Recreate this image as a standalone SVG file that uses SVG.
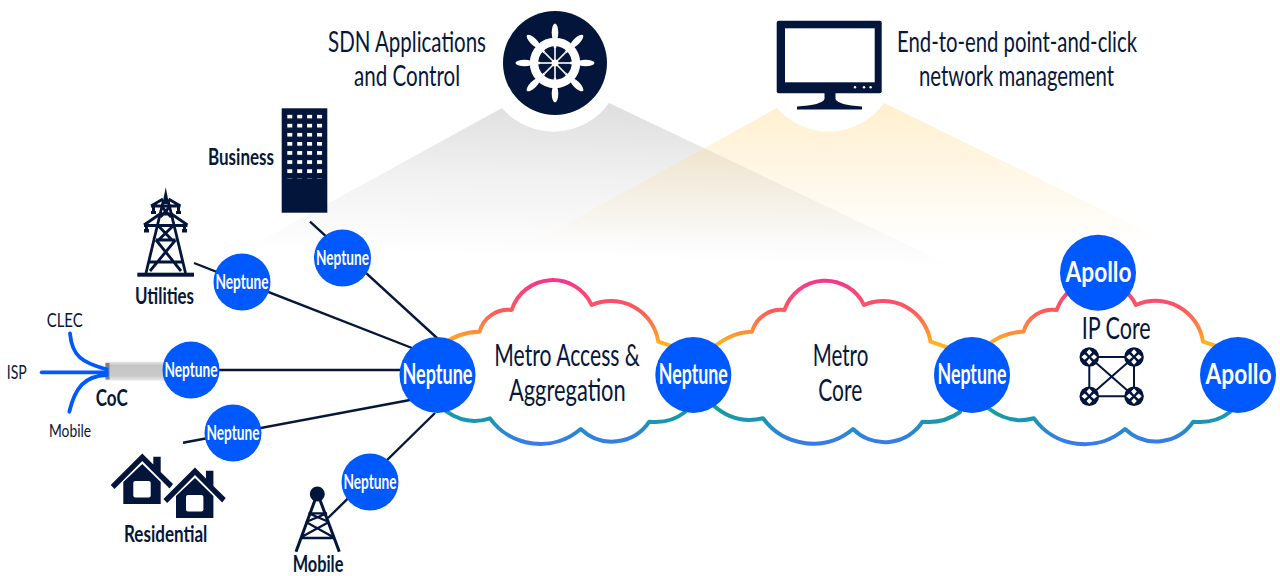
<svg xmlns="http://www.w3.org/2000/svg" width="1280" height="576" viewBox="0 0 1280 576">
<style>
text{font-family:Lato,"Liberation Sans",sans-serif;fill:#06173a}
.big{font-size:29px}
.lab{font-size:30px}
.bold{font-size:23px;font-weight:700}
.small{font-size:20px}
.n{fill:#0058ff}
.ns{font-size:20px;font-weight:700;fill:#fff}
.nb{font-size:28px;font-weight:700;fill:#fff}
.ln{stroke:#06173a;stroke-width:2.4;fill:none}
.cloud{fill:#fff;stroke:url(#cg);stroke-width:4;stroke-linejoin:round}
.fib{stroke:#0058ff;stroke-width:3.8;fill:none;stroke-linecap:round}
.ic{fill:#03153a}
.w{fill:#fff}
.st{stroke:#03153a;fill:none}
</style>
<defs>
<linearGradient id="gray" gradientUnits="userSpaceOnUse" x1="560" y1="100" x2="555.500" y2="258"><stop offset="0" stop-color="#dedede"/><stop offset=".5" stop-color="#f1f1f1"/><stop offset="1" stop-color="#ffffff"/></linearGradient>
<linearGradient id="yel" gradientUnits="userSpaceOnUse" x1="0" y1="103" x2="0" y2="244"><stop offset="0" stop-color="#ffd98a" stop-opacity=".42"/><stop offset="1" stop-color="#ffd98a" stop-opacity="0"/></linearGradient>
<linearGradient id="cg" gradientUnits="userSpaceOnUse" x1="0" y1="279" x2="0" y2="445"><stop offset="0" stop-color="#f5348f"/><stop offset=".19" stop-color="#fd5a5c"/><stop offset=".31" stop-color="#ff8a3a"/><stop offset=".4" stop-color="#ffb81c"/><stop offset=".76" stop-color="#16a08c"/><stop offset=".86" stop-color="#1a94b8"/><stop offset="1" stop-color="#3b78f0"/></linearGradient>
<linearGradient id="tube" x1="0" y1="0" x2="0" y2="1"><stop offset="0" stop-color="#e8e8e8"/><stop offset=".2" stop-color="#c4c4c4"/><stop offset=".75" stop-color="#cacaca"/><stop offset="1" stop-color="#ececec"/></linearGradient>
<pattern id="win" patternUnits="userSpaceOnUse" x="287.300" y="114.700" width="9.900" height="9.100"><rect width="5" height="3.700" fill="#fff"/></pattern>
<g id="house">
<path class="ic" d="M110.700,485 L142.300,453.500 L153.300,464.500 V456.700 H160.700 V472 L173,484 L169.500,488.500 L142.300,461 L114.500,489 Z"/>
<path class="ic" d="M142.300,464 L160.700,482 V504 H123.300 V482 Z"/>
<rect class="w" x="133.300" y="481" width="17.400" height="16.500" rx="2"/>
</g>
<g id="router">
<circle class="ic" r="9.800"/>
<path class="w" d="M0,-7.800 L2.800,-4.700 L0,-1.600 L-2.800,-4.700 Z M0,7.800 L2.800,4.700 L0,1.600 L-2.800,4.700 Z M-7.800,0 L-4.700,-2.800 L-1.600,0 L-4.700,2.800 Z M7.800,0 L4.700,-2.800 L1.600,0 L4.700,2.800 Z"/>
</g>
<g id="handle"><ellipse class="w" cx="555" cy="32.500" rx="3.300" ry="9"/><rect class="w" x="553.800" y="38" width="2.400" height="10"/><rect class="w" x="554.200" y="48" width="1.600" height="15"/></g>
</defs>

<g id="beams">
<path fill="url(#gray)" d="M502,108 A68,68 0 0 0 609,103 L965,272 L240,252 Z"/>
<path fill="url(#yel)" d="M777,108 A68,68 0 0 0 884,103 L1170,243 L530,244 Z"/>
</g>

<g id="cloud-metro-access"><path class="cloud" d="M440,346 Q458,332 479.500,331.700 A30,30 0 0 1 511.700,310 A43,43 0 0 1 591.700,305 A48,48 0 0 1 658.300,341.700 L680,349 L685,412 Q670,424 649.300,421.700 A45,45 0 0 1 580.700,429 A62,62 0 0 1 490,418.300 Q467,426 446.700,411.700 L440,405 Z"/></g>
<g id="cloud-metro-core"><path class="cloud" d="M705,355 Q728,332 752,331.700 A30,30 0 0 1 784.500,310 A43,43 0 0 1 864,305 A48,48 0 0 1 930.500,341.700 L955,350 L960,412 Q943,424 922.500,421.700 A45,45 0 0 1 853,429 A62,62 0 0 1 763,418.300 Q735,425 713,405 Z"/></g>
<g id="cloud-ip-core"><path class="cloud" d="M985,347 Q1003,332 1023.500,331.700 A30,30 0 0 1 1056.700,310 A43,43 0 0 1 1136,305 A48,48 0 0 1 1203,341.700 L1225,349 L1230,412 Q1215,424 1193.300,421.700 A45,45 0 0 1 1125,429 A62,62 0 0 1 1034,418.300 Q1010,425 988,408 Z"/></g>

<g id="connectors">
<line class="ln" x1="310" y1="221.700" x2="437" y2="338"/>
<line class="ln" x1="194" y1="263" x2="412" y2="348"/>
<line class="ln" x1="191" y1="370" x2="400" y2="370"/>
<line class="ln" x1="183" y1="442.700" x2="410" y2="400"/>
<line class="ln" x1="328" y1="518" x2="435" y2="413"/>
</g>

<g id="sdn-apps">
<circle class="ic" cx="555" cy="63" r="52"/>
<use href="#handle"/>
<use href="#handle" transform="rotate(45 555 63)"/>
<use href="#handle" transform="rotate(90 555 63)"/>
<use href="#handle" transform="rotate(135 555 63)"/>
<use href="#handle" transform="rotate(180 555 63)"/>
<use href="#handle" transform="rotate(225 555 63)"/>
<use href="#handle" transform="rotate(270 555 63)"/>
<use href="#handle" transform="rotate(315 555 63)"/>
<circle cx="555" cy="63" r="21" fill="none" stroke="#fff" stroke-width="8.500"/>
<circle class="w" cx="555" cy="63" r="3.500"/>
<text class="big" x="328" y="51.500" textLength="158" lengthAdjust="spacingAndGlyphs">SDN Applications</text>
<text class="big" x="354" y="85.500" textLength="106" lengthAdjust="spacingAndGlyphs">and Control</text>
</g>

<g id="management">
<rect class="ic" x="776.700" y="20.700" width="105" height="72.600" rx="2"/>
<rect class="w" x="785" y="28.300" width="89.700" height="54"/>
<circle class="w" cx="855" cy="87.300" r="1.200"/><circle class="w" cx="864" cy="87.300" r="1.200"/><circle class="w" cx="870.600" cy="87.300" r="1.200"/>
<path class="ic" d="M824.500,93 H835.500 V99 Q838,105 862,106.500 V109.500 H797 V106.500 Q822,105 824.500,99 Z"/>
<text class="big" x="897" y="51.500" textLength="240" lengthAdjust="spacingAndGlyphs">End-to-end point-and-click</text>
<text class="big" x="919" y="85.500" textLength="195" lengthAdjust="spacingAndGlyphs">network management</text>
</g>

<g id="business">
<rect class="ic" x="281.700" y="108.300" width="45.600" height="104.400"/>
<rect fill="url(#win)" x="287" y="114.500" width="36" height="64"/>
<text class="bold" x="208" y="165" textLength="66" lengthAdjust="spacingAndGlyphs">Business</text>
</g>

<g id="utilities">
<path class="ic" d="M165.700,187.300 L169,204 H162.500 Z"/>
<rect class="ic" x="137.300" y="272.700" width="56.700" height="4"/>
<path class="st" stroke-width="2.800" d="M163.500,200 L146,273 M168,200 L185.500,273 M151,206 L163,199 M180.500,206 L168.500,199 M151,206 H180.500 M144,225 L160,214 M187.500,225 L171.500,214 M144,225.500 H187.500 M162,207 L171,217 M169.500,207 L160.500,217 M161,214 H170.500 M158.500,226 L172,240 M173,226 L158.500,240 M156,240 H175.500 M156,240 L181,271 M175.500,240 L150,271 M149,262 H182"/>
<path class="ic" d="M152,207 h3 v4 h1 v3 h-5 v-3 h1 Z M177,207 h3 v4 h1 v3 h-5 v-3 h1 Z M145,226 h3 v3 h1 v3.500 h-5 v-3.500 h1 Z M183,226 h3 v3 h1 v3.500 h-5 v-3.500 h1 Z"/>
<text class="bold" x="135" y="303.500" textLength="59" lengthAdjust="spacingAndGlyphs">Utilities</text>
</g>

<g id="coc">
<rect fill="url(#tube)" x="105.500" y="361.700" width="64" height="19"/>
<rect fill="#7d7d7d" x="105.500" y="363" width="4" height="16.500"/>
<path class="fib" d="M70,333.300 C72,356 82,363 106.700,369.300"/>
<path class="fib" d="M41.700,372.300 H106.700"/>
<path class="fib" d="M69.300,411.700 C75,388 84,376 106.700,375"/>
<text class="small" x="46.700" y="326.700" textLength="36" lengthAdjust="spacingAndGlyphs">CLEC</text>
<text class="small" x="6.700" y="378.700" textLength="20" lengthAdjust="spacingAndGlyphs">ISP</text>
<text class="small" x="49" y="437.300" textLength="42" lengthAdjust="spacingAndGlyphs" style="font-size:18px">Mobile</text>
<text class="bold" x="95.700" y="405.700" textLength="32" lengthAdjust="spacingAndGlyphs">CoC</text>
</g>

<g id="residential">
<use href="#house"/>
<use href="#house" transform="translate(52.700 14)"/>
<text class="bold" x="124" y="542" textLength="83.300" lengthAdjust="spacingAndGlyphs">Residential</text>
</g>

<g id="mobile-tower">
<circle class="ic" cx="317.300" cy="494" r="7.500"/>
<path class="st" stroke-width="3" d="M315,500 L296,551.700 M320,500 L339.300,551.700"/>
<path class="st" stroke-width="2.300" d="M308.500,513.300 H327 M308.500,513.300 L329,522 M327,513.300 L306,522 M306,522 L333,537 M329,522 L301.500,537 M301.500,538 H333.500"/>
<text class="bold" x="292.700" y="572" textLength="50.700" lengthAdjust="spacingAndGlyphs" style="font-size:22px">Mobile</text>
</g>

<g id="neptune-business"><circle class="n" cx="342.500" cy="258" r="28.500"/><text class="ns" x="316" y="265" textLength="53" lengthAdjust="spacingAndGlyphs">Neptune</text></g>
<g id="neptune-utilities"><circle class="n" cx="242" cy="282" r="28.500"/><text class="ns" x="215.500" y="289" textLength="53" lengthAdjust="spacingAndGlyphs">Neptune</text></g>
<g id="neptune-coc"><circle class="n" cx="191" cy="370" r="28.500"/><text class="ns" x="164.500" y="377" textLength="53" lengthAdjust="spacingAndGlyphs">Neptune</text></g>
<g id="neptune-residential"><circle class="n" cx="233" cy="433" r="28.500"/><text class="ns" x="206.500" y="440" textLength="53" lengthAdjust="spacingAndGlyphs">Neptune</text></g>
<g id="neptune-mobile"><circle class="n" cx="370" cy="482" r="28.500"/><text class="ns" x="343.500" y="489" textLength="53" lengthAdjust="spacingAndGlyphs">Neptune</text></g>
<g id="neptune-hub"><circle class="n" cx="437.500" cy="375" r="38"/><text class="nb" x="402.500" y="384" textLength="70" lengthAdjust="spacingAndGlyphs">Neptune</text></g>
<g id="neptune-metro"><circle class="n" cx="693.300" cy="375" r="38"/><text class="nb" x="658.800" y="384" textLength="69" lengthAdjust="spacingAndGlyphs">Neptune</text></g>
<g id="neptune-core"><circle class="n" cx="972" cy="375" r="38"/><text class="nb" x="937.500" y="384" textLength="69" lengthAdjust="spacingAndGlyphs">Neptune</text></g>
<g id="apollo-top"><circle class="n" cx="1098" cy="272.700" r="38"/><text class="nb" x="1065.500" y="281.500" textLength="66" lengthAdjust="spacingAndGlyphs">Apollo</text></g>
<g id="apollo-right"><circle class="n" cx="1238" cy="375" r="38"/><text class="nb" transform="translate(1205.500 383.500) scale(.8 1)" textLength="82.500" lengthAdjust="spacingAndGlyphs">Apollo</text></g>

<g id="label-metro-access">
<text class="lab" transform="translate(494.300 366) scale(.8 1)" textLength="182" lengthAdjust="spacingAndGlyphs">Metro Access &amp;</text>
<text class="lab" x="509" y="401" textLength="116.700" lengthAdjust="spacingAndGlyphs">Aggregation</text>
</g>
<g id="label-metro-core">
<text class="lab" x="812.700" y="366" textLength="55.600" lengthAdjust="spacingAndGlyphs">Metro</text>
<text class="lab" x="818.300" y="401" textLength="44" lengthAdjust="spacingAndGlyphs">Core</text>
</g>
<g id="label-ip-core">
<text class="lab" x="1081.700" y="339" textLength="69" lengthAdjust="spacingAndGlyphs">IP Core</text>
<path class="st" stroke-width="2" d="M1089.300,357 H1134 V396.300 H1089.300 Z M1089.300,357 L1134,396.300 M1134,357 L1089.300,396.300"/>
<use href="#router" x="1089.300" y="357"/>
<use href="#router" x="1134" y="357"/>
<use href="#router" x="1089.300" y="396.300"/>
<use href="#router" x="1134" y="396.300"/>
</g>
</svg>
